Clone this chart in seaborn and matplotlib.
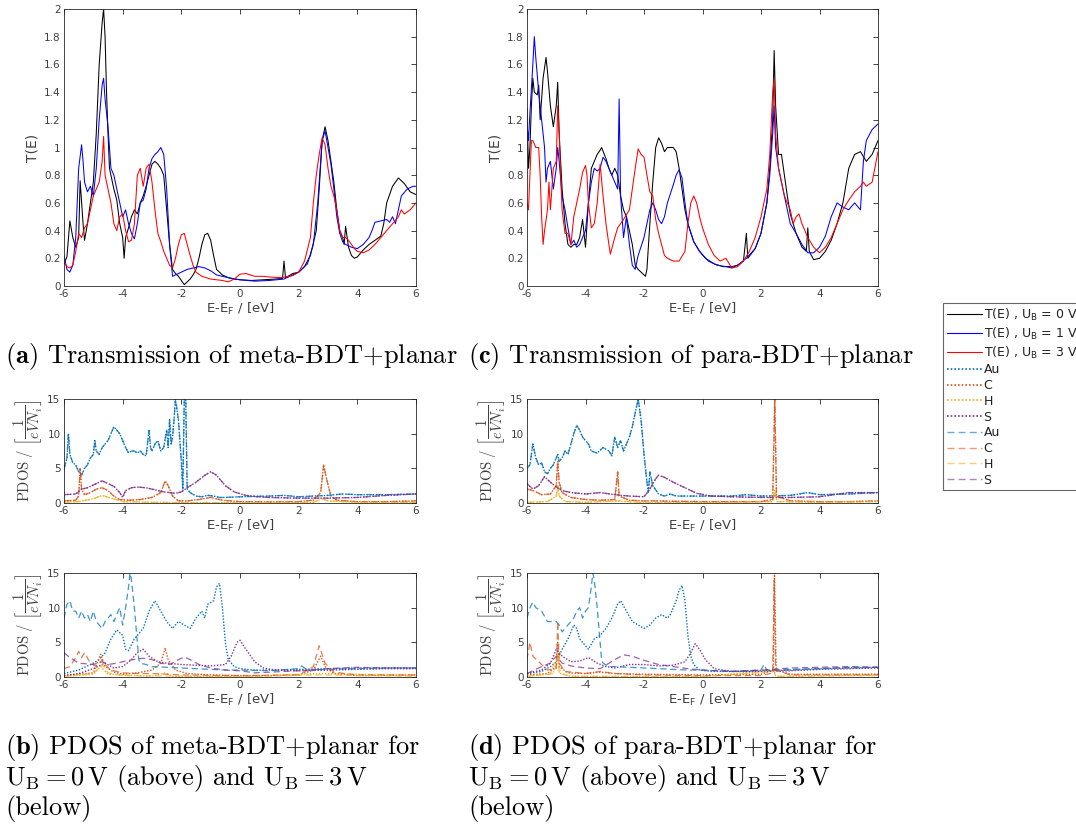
import matplotlib
matplotlib.use("Agg")
import matplotlib.pyplot as plt
import seaborn as sns
from matplotlib.lines import Line2D

# ---------------- transmission, meta-BDT+planar ----------------
E_meta_T0 = [-6, -5.9, -5.8, -5.7, -5.6, -5.5, -5.45, -5.35, -5.3, -5.2, -5.1, -5.0, -4.9, -4.8, -4.7, -4.65,
             -4.6, -4.55, -4.5, -4.45, -4.4, -4.3, -4.2, -4.1, -4.0, -3.95, -3.9, -3.8, -3.7, -3.6, -3.5, -3.4,
             -3.3, -3.2, -3.1, -3.0, -2.9, -2.8, -2.7, -2.6, -2.5, -2.4, -2.3, -2.2, -2.1, -2.0, -1.9, -1.8,
             -1.7, -1.6, -1.5, -1.4, -1.3, -1.2, -1.1, -1.0, -0.9, -0.8, -0.6, -0.4, -0.2, 0.0, 0.4, 0.8, 1.2,
             1.45, 1.5, 1.55, 1.8, 2.0, 2.2, 2.4, 2.6, 2.7, 2.8, 2.9, 3.0, 3.1, 3.2, 3.3, 3.4, 3.5, 3.55, 3.6,
             3.7, 3.8, 3.9, 4.0, 4.2, 4.4, 4.6, 4.8, 4.9, 5.0, 5.2, 5.4, 5.6, 5.8, 6.0]
T_meta_0 = [0.16, 0.21, 0.47, 0.35, 0.28, 0.35, 0.76, 0.45, 0.33, 0.45, 0.6, 0.75, 1.1, 1.6, 1.9, 2.0,
            1.8, 1.4, 1.1, 0.85, 0.8, 0.7, 0.62, 0.45, 0.35, 0.2, 0.35, 0.42, 0.5, 0.55, 0.52, 0.6,
            0.65, 0.72, 0.8, 0.88, 0.9, 0.88, 0.85, 0.8, 0.55, 0.3, 0.12, 0.09, 0.07, 0.04, 0.01, 0.03,
            0.05, 0.08, 0.12, 0.2, 0.3, 0.37, 0.38, 0.33, 0.22, 0.12, 0.08, 0.06, 0.05, 0.045, 0.04, 0.045, 0.05,
            0.055, 0.18, 0.06, 0.09, 0.1, 0.14, 0.22, 0.4, 0.7, 1.05, 1.15, 1.05, 0.9, 0.75, 0.55, 0.4, 0.35, 0.3, 0.43,
            0.28, 0.22, 0.2, 0.21, 0.26, 0.3, 0.33, 0.36, 0.45, 0.6, 0.72, 0.78, 0.74, 0.68, 0.66]

E_meta_T1 = [-6, -5.9, -5.8, -5.7, -5.6, -5.5, -5.4, -5.35, -5.3, -5.2, -5.1, -5.0, -4.9, -4.8, -4.7, -4.65,
             -4.6, -4.5, -4.4, -4.3, -4.2, -4.1, -4.0, -3.9, -3.8, -3.7, -3.6, -3.5, -3.4, -3.3, -3.2, -3.1,
             -3.0, -2.9, -2.8, -2.7, -2.6, -2.5, -2.4, -2.3, -2.2, -2.0, -1.8, -1.6, -1.4, -1.2, -1.0, -0.8,
             -0.4, 0.0, 0.5, 1.0, 1.5, 2.0, 2.3, 2.5, 2.65, 2.8, 2.9, 3.0, 3.1, 3.2, 3.3, 3.4, 3.5, 3.6, 3.8,
             4.0, 4.2, 4.4, 4.5, 4.6, 4.8, 5.0, 5.1, 5.2, 5.3, 5.4, 5.5, 5.7, 5.9, 6.0]
T_meta_1 = [0.22, 0.12, 0.1, 0.15, 0.35, 0.85, 1.02, 0.9, 0.75, 0.68, 0.72, 0.65, 0.85, 1.2, 1.45, 1.5,
            1.35, 1.15, 0.85, 0.8, 0.7, 0.6, 0.5, 0.55, 0.45, 0.38, 0.34, 0.45, 0.6, 0.62, 0.7, 0.85,
            0.92, 0.95, 0.97, 1.0, 0.95, 0.7, 0.3, 0.07, 0.08, 0.1, 0.12, 0.13, 0.14, 0.13, 0.11, 0.08,
            0.06, 0.045, 0.035, 0.04, 0.05, 0.1, 0.16, 0.3, 0.6, 1.05, 1.12, 1.0, 0.88, 0.7, 0.5, 0.38, 0.32, 0.3, 0.28,
            0.27, 0.3, 0.35, 0.4, 0.46, 0.47, 0.48, 0.46, 0.5, 0.45, 0.55, 0.65, 0.7, 0.72, 0.72]

E_meta_T3 = [-6, -5.9, -5.8, -5.7, -5.6, -5.5, -5.4, -5.3, -5.2, -5.1, -5.0, -4.9, -4.8, -4.7, -4.65, -4.6,
             -4.5, -4.4, -4.3, -4.2, -4.1, -4.0, -3.9, -3.8, -3.7, -3.6, -3.5, -3.4, -3.3, -3.2, -3.1, -3.0,
             -2.9, -2.8, -2.7, -2.6, -2.5, -2.4, -2.3, -2.2, -2.1, -2.0, -1.9, -1.8, -1.7, -1.6, -1.5, -1.3,
             -1.0, -0.6, -0.4, -0.2, 0.0, 0.2, 0.5, 0.8, 1.0, 1.4, 1.8, 2.0, 2.2, 2.4, 2.5, 2.6, 2.7, 2.8, 2.9,
             3.0, 3.1, 3.2, 3.3, 3.4, 3.5, 3.6, 3.7, 3.8, 3.9, 4.0, 4.2, 4.4, 4.6, 4.8, 5.0, 5.2, 5.4, 5.5, 5.6,
             5.8, 6.0]
T_meta_3 = [0.18, 0.14, 0.13, 0.15, 0.25, 0.38, 0.35, 0.42, 0.45, 0.55, 0.65, 0.7, 0.75, 0.9, 1.08, 0.8,
            0.7, 0.6, 0.45, 0.4, 0.5, 0.52, 0.4, 0.32, 0.33, 0.45, 0.8, 0.85, 0.72, 0.85, 0.88, 0.75,
            0.55, 0.38, 0.32, 0.25, 0.2, 0.15, 0.13, 0.2, 0.3, 0.37, 0.38, 0.3, 0.22, 0.15, 0.1, 0.07,
            0.05, 0.04, 0.03, 0.05, 0.085, 0.09, 0.07, 0.07, 0.065, 0.06, 0.075, 0.1, 0.18, 0.35, 0.6, 0.8, 0.95, 1.07, 1.02,
            0.85, 0.72, 0.65, 0.55, 0.4, 0.35, 0.35, 0.33, 0.3, 0.27, 0.25, 0.24, 0.26, 0.3, 0.35, 0.4, 0.45, 0.5, 0.55, 0.52,
            0.55, 0.6]

# ---------------- transmission, para-BDT+planar ----------------
E_para_T0 = [-6, -5.95, -5.9, -5.85, -5.8, -5.75, -5.65, -5.6, -5.55, -5.45, -5.35, -5.3, -5.2, -5.1, -5.0, -4.95,
             -4.9, -4.8, -4.7, -4.6, -4.5, -4.4, -4.3, -4.2, -4.1, -4.0, -3.9, -3.8, -3.7, -3.6, -3.5, -3.45,
             -3.3, -3.2, -3.1, -3.0, -2.9, -2.8, -2.7, -2.6, -2.5, -2.4, -2.3, -2.2, -2.1, -2.0, -1.95, -1.9,
             -1.8, -1.7, -1.6, -1.5, -1.4, -1.3, -1.2, -1.0, -0.9, -0.8, -0.7, -0.6, -0.5, -0.3, -0.1, 0.1,
             0.4, 0.7, 1.0, 1.2, 1.4, 1.5, 1.55, 1.8, 2.0, 2.2, 2.3, 2.4, 2.45, 2.5, 2.6, 2.7, 2.8, 2.9, 3.0,
             3.2, 3.4, 3.55, 3.6, 3.65, 3.8, 4.0, 4.2, 4.4, 4.6, 4.8, 5.0, 5.2, 5.4, 5.6, 5.8, 6.0]
T_para_0 = [1.28, 0.85, 1.0, 1.3, 1.5, 1.4, 1.38, 1.45, 1.2, 1.5, 1.65, 1.55, 1.3, 1.15, 1.3, 1.47,
            1.1, 0.7, 0.45, 0.3, 0.28, 0.3, 0.3, 0.35, 0.48, 0.28, 0.6, 0.85, 0.9, 0.95, 0.98, 1.0,
            0.92, 0.85, 0.8, 0.85, 0.8, 0.65, 0.55, 0.5, 0.4, 0.3, 0.15, 0.12, 0.1, 0.08, 0.07, 0.12,
            0.45, 0.75, 1.0, 1.07, 1.03, 0.97, 1.0, 1.0, 0.97, 0.85, 0.7, 0.55, 0.45, 0.32, 0.25, 0.2,
            0.16, 0.14, 0.14, 0.15, 0.18, 0.38, 0.2, 0.27, 0.38, 0.6, 0.85, 1.2, 1.7, 1.3, 0.95, 0.95, 0.8, 0.65, 0.52,
            0.38, 0.28, 0.25, 0.42, 0.25, 0.19, 0.2, 0.25, 0.33, 0.45, 0.6, 0.85, 0.95, 0.97, 0.9, 0.95, 1.05]

E_para_T1 = [-6, -5.95, -5.9, -5.8, -5.75, -5.7, -5.6, -5.5, -5.4, -5.35, -5.3, -5.2, -5.1, -5.0, -4.95, -4.9,
             -4.8, -4.7, -4.6, -4.5, -4.4, -4.3, -4.2, -4.1, -4.0, -3.9, -3.8, -3.7, -3.6, -3.5, -3.4, -3.3,
             -3.2, -3.1, -3.0, -2.9, -2.85, -2.8, -2.7, -2.6, -2.5, -2.4, -2.3, -2.2, -2.0, -1.9, -1.8, -1.7,
             -1.6, -1.5, -1.4, -1.3, -1.2, -1.0, -0.9, -0.8, -0.7, -0.6, -0.5, -0.3, -0.1, 0.2, 0.5, 0.8, 1.0,
             1.2, 1.5, 1.8, 2.0, 2.2, 2.3, 2.4, 2.45, 2.5, 2.6, 2.7, 2.8, 2.9, 3.0, 3.2, 3.4, 3.6, 3.8, 4.0,
             4.2, 4.4, 4.6, 4.8, 5.0, 5.2, 5.4, 5.5, 5.6, 5.8, 6.0]
T_para_1 = [1.17, 1.05, 1.25, 1.6, 1.8, 1.65, 1.4, 1.2, 1.0, 0.75, 0.85, 0.9, 0.7, 0.85, 1.0, 0.9,
            0.65, 0.55, 0.42, 0.3, 0.33, 0.28, 0.3, 0.35, 0.4, 0.6, 0.75, 0.85, 0.83, 0.85, 0.93, 0.9,
            0.85, 0.8, 0.75, 0.7, 1.35, 0.65, 0.35, 0.5, 0.3, 0.15, 0.12, 0.22, 0.35, 0.45, 0.55, 0.6,
            0.55, 0.48, 0.45, 0.5, 0.6, 0.73, 0.8, 0.84, 0.78, 0.6, 0.45, 0.32, 0.25, 0.18, 0.15, 0.14, 0.13,
            0.15, 0.2, 0.27, 0.38, 0.6, 0.8, 1.1, 1.3, 1.0, 0.85, 0.75, 0.65, 0.55, 0.45, 0.38, 0.3, 0.24, 0.24, 0.28,
            0.36, 0.5, 0.6, 0.57, 0.55, 0.6, 0.55, 0.9, 1.05, 1.13, 1.17]

E_para_T3 = [-6, -5.95, -5.9, -5.85, -5.8, -5.7, -5.6, -5.55, -5.5, -5.45, -5.4, -5.3, -5.25, -5.2, -5.1, -5.0,
             -4.95, -4.9, -4.85, -4.8, -4.7, -4.6, -4.5, -4.4, -4.3, -4.2, -4.1, -4.0, -3.95, -3.9, -3.8, -3.7,
             -3.6, -3.5, -3.4, -3.3, -3.2, -3.15, -3.0, -2.9, -2.7, -2.5, -2.4, -2.3, -2.2, -2.1, -2.0, -1.9,
             -1.8, -1.7, -1.6, -1.5, -1.4, -1.3, -1.2, -1.0, -0.8, -0.6, -0.5, -0.4, -0.3, -0.2, -0.1, 0.0,
             0.2, 0.4, 0.6, 0.8, 1.0, 1.2, 1.4, 1.6, 1.8, 2.0, 2.2, 2.3, 2.4, 2.45, 2.5, 2.6, 2.7, 2.8, 3.0,
             3.1, 3.2, 3.3, 3.4, 3.6, 3.8, 4.0, 4.2, 4.4, 4.6, 4.8, 5.0, 5.2, 5.4, 5.5, 5.6, 5.8, 6.0]
T_para_3 = [0.6, 0.55, 0.8, 1.05, 1.05, 1.0, 1.0, 0.8, 0.5, 0.3, 0.4, 0.55, 0.75, 0.55, 0.85, 0.9,
            1.3, 1.1, 0.8, 0.55, 0.38, 0.38, 0.3, 0.5, 0.6, 0.7, 0.82, 0.87, 0.8, 0.6, 0.42, 0.45,
            0.6, 0.88, 0.65, 0.45, 0.3, 0.23, 0.35, 0.42, 0.48, 0.55, 0.7, 0.85, 0.99, 0.95, 0.93, 0.8,
            0.68, 0.65, 0.48, 0.38, 0.3, 0.22, 0.2, 0.18, 0.18, 0.25, 0.45, 0.6, 0.65, 0.6, 0.5, 0.42,
            0.3, 0.22, 0.18, 0.2, 0.13, 0.14, 0.18, 0.25, 0.35, 0.5, 0.7, 0.95, 1.4, 1.5, 1.1, 0.85, 0.75, 0.65, 0.55,
            0.45, 0.5, 0.52, 0.45, 0.35, 0.28, 0.24, 0.28, 0.35, 0.45, 0.55, 0.62, 0.68, 0.72, 0.75, 0.72, 0.75, 0.97]

# ---------------- PDOS, meta-BDT+planar, U_B = 0 V ----------------
E_m0_Au = [-6, -5.9, -5.85, -5.8, -5.7, -5.6, -5.5, -5.4, -5.3, -5.2, -5.1, -5.0, -4.95, -4.9, -4.8, -4.7, -4.6,
           -4.5, -4.4, -4.3, -4.2, -4.1, -4.0, -3.9, -3.8, -3.7, -3.6, -3.5, -3.4, -3.3, -3.2, -3.1, -3.05, -3.0,
           -2.9, -2.8, -2.7, -2.6, -2.5, -2.45, -2.4, -2.35, -2.3, -2.25, -2.2, -2.1, -2.0, -1.95, -1.9, -1.85,
           -1.8, -1.7, -1.5, -1.3, -1.1, -0.9, -0.7, -0.5, 0.0, 1.0, 1.5, 2.0, 2.5, 3.0, 3.5, 4.0, 5.0, 6.0]
P_m0_Au = [4.8, 6.5, 10.0, 7.0, 5.8, 5.5, 4.5, 4.0, 5.0, 5.5, 6.5, 7.0, 9.0, 7.5, 7.0, 8.0, 8.5,
           9.0, 10.0, 11.0, 10.5, 10.0, 9.0, 8.0, 7.2, 7.5, 7.5, 7.2, 7.5, 7.0, 6.8, 10.5, 8.0, 7.5,
           8.5, 9.0, 7.5, 8.0, 10.5, 8.0, 12.0, 8.5, 9.5, 12.0, 15.0, 12.0, 6.0, 2.0, 15.0, 15.0,
           2.0, 1.5, 1.0, 0.9, 1.1, 1.0, 0.8, 0.8, 0.9, 1.0, 1.1, 0.9, 1.0, 1.1, 1.3, 1.2, 1.2, 1.3]
E_m0_C = [-6, -5.6, -5.5, -5.45, -5.4, -5.3, -5.1, -4.9, -4.7, -4.5, -4.3, -4.1, -3.8, -3.4, -3.0, -2.7, -2.55,
          -2.45, -2.3, -2.1, -1.8, -1.4, -1.0, -0.6, 0.0, 1.0, 2.0, 2.5, 2.75, 2.85, 2.95, 3.1, 3.3, 4.0, 5.0, 6.0]
P_m0_C = [0.3, 0.4, 1.0, 5.0, 2.0, 1.2, 1.5, 2.0, 2.2, 1.8, 1.0, 0.5, 0.4, 0.5, 0.8, 1.5, 3.2,
          2.5, 1.0, 0.3, 0.3, 0.5, 0.8, 0.4, 0.2, 0.15, 0.2, 0.4, 1.5, 5.5, 3.5, 1.0, 0.4, 0.2, 0.2, 0.3]
E_m0_H = [-6, -5.5, -5.0, -4.7, -4.4, -4.0, -3.0, -2.0, 0.0, 2.5, 2.8, 3.0, 4.0, 6.0]
P_m0_H = [0.1, 0.2, 0.6, 1.1, 0.7, 0.2, 0.1, 0.05, 0.05, 0.1, 0.6, 0.3, 0.1, 0.1]
E_m0_S = [-6, -5.6, -5.4, -5.2, -5.0, -4.7, -4.5, -4.3, -4.1, -4.0, -3.9, -3.7, -3.5, -3.2, -3.0, -2.8, -2.6,
          -2.4, -2.2, -2.0, -1.8, -1.5, -1.2, -1.0, -0.8, -0.5, -0.2, 0.2, 0.6, 1.0, 2.0, 3.0, 4.0, 5.0, 6.0]
P_m0_S = [1.2, 1.3, 2.0, 2.2, 2.6, 3.2, 2.8, 2.4, 1.5, 0.8, 1.8, 2.2, 2.3, 2.2, 2.0, 1.8, 1.6,
          1.5, 1.4, 1.6, 2.2, 3.0, 4.0, 4.5, 4.0, 2.5, 1.6, 1.1, 0.9, 0.8, 0.7, 0.7, 0.8, 1.1, 1.3]

# ---------------- PDOS, para-BDT+planar, U_B = 0 V ----------------
E_p0_Au = [-6, -5.9, -5.8, -5.7, -5.6, -5.5, -5.4, -5.3, -5.2, -5.1, -5.0, -4.95, -4.9, -4.8, -4.7, -4.6, -4.5,
           -4.4, -4.3, -4.2, -4.1, -4.0, -3.9, -3.8, -3.6, -3.4, -3.2, -3.1, -3.0, -2.9, -2.8, -2.7, -2.6, -2.5,
           -2.4, -2.3, -2.2, -2.1, -2.0, -1.9, -1.85, -1.8, -1.7, -1.5, -1.3, -1.1, -0.9, -0.5, 0.0, 1.0, 1.5,
           2.0, 3.0, 3.6, 4.0, 5.0, 6.0]
P_p0_Au = [5.0, 5.5, 8.5, 6.5, 5.5, 5.8, 4.5, 4.2, 5.0, 5.5, 6.5, 7.0, 6.0, 6.5, 7.5, 7.0, 8.5,
           10.0, 11.2, 10.5, 9.5, 9.0, 8.5, 7.5, 7.2, 8.0, 7.5, 6.8, 9.5, 8.0, 9.0, 7.5, 8.5, 9.5,
           11.0, 13.0, 15.0, 12.0, 7.0, 3.0, 1.5, 4.5, 2.5, 1.3, 1.0, 1.3, 1.0, 1.0, 1.0, 1.0, 1.2,
           1.0, 1.1, 1.5, 1.2, 1.3, 1.5]
E_p0_C = [-6, -5.8, -5.5, -5.2, -5.0, -4.95, -4.9, -4.8, -4.5, -4.0, -3.5, -3.0, -2.9, -2.85, -2.5, -2.0, -1.5,
          -1.0, 0.0, 1.0, 2.0, 2.4, 2.47, 2.53, 3.0, 4.0, 5.0, 6.0]
P_p0_C = [2.0, 1.8, 1.2, 1.3, 2.5, 6.0, 3.0, 1.5, 0.8, 0.5, 0.4, 0.5, 4.5, 1.0, 0.4, 0.3, 0.3,
          0.25, 0.2, 0.2, 0.2, 0.5, 15.0, 1.0, 0.3, 0.2, 0.2, 0.3]
E_p0_H = [-6, -5.3, -5.0, -4.95, -4.9, -4.7, -4.0, -2.9, -2.0, 0.0, 2.4, 2.47, 2.55, 4.0, 6.0]
P_p0_H = [0.1, 0.2, 1.0, 2.5, 1.0, 0.2, 0.1, 0.3, 0.05, 0.05, 0.2, 1.8, 0.2, 0.1, 0.2]
E_p0_S = [-6, -5.8, -5.6, -5.4, -5.2, -5.0, -4.8, -4.5, -4.0, -3.5, -3.0, -2.5, -2.0, -1.8, -1.6, -1.5, -1.3,
          -1.0, -0.6, -0.2, 0.3, 1.0, 2.0, 3.0, 4.0, 5.0, 6.0]
P_p0_S = [2.8, 2.0, 2.5, 3.8, 3.0, 2.3, 1.8, 1.5, 1.3, 1.5, 1.2, 1.0, 0.9, 2.0, 3.5, 4.0, 3.7,
          3.0, 2.2, 1.4, 1.0, 0.9, 0.8, 0.8, 0.9, 1.5, 1.5]

# ---------------- PDOS, meta-BDT+planar, U_B = 3 V (dotted / dashed sides) ----------------
E_m3_Au_dot = [-6, -5.5, -5.0, -4.8, -4.6, -4.4, -4.2, -4.0, -3.9, -3.8, -3.6, -3.4, -3.3, -3.1, -2.9, -2.7,
               -2.5, -2.3, -2.1, -1.9, -1.7, -1.5, -1.3, -1.2, -1.1, -0.9, -0.8, -0.7, -0.6, -0.5, -0.4, -0.2,
               0.0, 0.5, 1.0, 2.0, 3.0, 4.0, 5.0, 6.0]
P_m3_Au_dot = [0.5, 1.0, 2.0, 2.5, 3.5, 5.5, 6.8, 6.0, 4.0, 3.8, 5.5, 6.5, 7.0, 9.5, 11.0, 9.5,
               8.0, 7.0, 8.0, 7.5, 7.0, 8.5, 9.5, 8.5, 10.5, 11.0, 13.0, 13.5, 10.0, 5.0, 2.5, 1.5,
               1.2, 1.0, 1.0, 1.1, 1.2, 1.3, 1.3, 1.3]
E_m3_Au_dash = [-6, -5.9, -5.8, -5.7, -5.6, -5.5, -5.4, -5.3, -5.2, -5.1, -5.0, -4.9, -4.8, -4.7, -4.6, -4.5,
                -4.4, -4.3, -4.2, -4.1, -4.0, -3.9, -3.8, -3.75, -3.7, -3.6, -3.5, -3.45, -3.4, -3.2, -3.0,
                -2.5, -2.0, -1.5, -1.0, -0.5, 0.0, 1.0, 2.0, 2.1, 2.3, 3.0, 4.0, 5.0, 6.0]
P_m3_Au_dash = [8.5, 10.5, 11.0, 9.5, 9.5, 8.5, 9.5, 8.5, 9.0, 8.0, 9.5, 8.0, 7.5, 7.0, 8.0, 8.5,
                9.0, 8.0, 9.0, 10.0, 7.5, 10.0, 13.0, 15.0, 14.0, 10.0, 5.0, 2.5, 2.0, 1.8, 1.5,
                1.4, 1.3, 1.2, 1.1, 1.0, 1.0, 0.9, 1.2, 1.6, 1.0, 1.1, 1.2, 1.3, 1.3]
E_m3_C_dot = [-6, -5.0, -4.75, -4.6, -4.3, -4.0, -3.5, -3.0, -2.7, -2.55, -2.45, -2.2, -1.8, -1.0, 0.0, 1.0,
              2.0, 2.5, 2.75, 2.9, 3.2, 4.0, 6.0]
P_m3_C_dot = [0.2, 0.6, 3.3, 1.5, 0.7, 0.4, 0.6, 1.0, 2.0, 4.2, 2.5, 1.0, 0.5, 0.3, 0.2, 0.2,
              0.3, 1.0, 3.0, 1.5, 0.5, 0.2, 0.3]
E_m3_C_dash = [-6, -5.8, -5.6, -5.5, -5.4, -5.3, -5.1, -4.9, -4.7, -4.6, -4.4, -4.0, -3.5, -3.0, -2.5, -2.0,
               0.0, 2.0, 2.5, 2.7, 2.9, 3.2, 4.0, 6.0]
P_m3_C_dash = [1.2, 1.5, 2.8, 3.7, 2.8, 3.5, 2.0, 1.5, 2.5, 1.8, 1.0, 0.6, 0.5, 0.5, 0.4, 0.3,
               0.2, 0.3, 1.5, 4.5, 2.0, 0.7, 0.3, 0.3]
E_m3_H_dot = [-6, -5.0, -4.75, -4.5, -3.0, -2.55, -2.3, 0.0, 2.75, 6.0]
P_m3_H_dot = [0.1, 0.4, 1.5, 0.4, 0.1, 0.6, 0.1, 0.05, 0.5, 0.2]
E_m3_H_dash = [-6, -5.0, -4.7, -4.5, -4.0, 0.0, 2.7, 6.0]
P_m3_H_dash = [0.1, 0.5, 1.8, 0.6, 0.2, 0.05, 0.3, 0.1]
E_m3_S_dot = [-6, -5.5, -5.0, -4.6, -4.3, -4.0, -3.7, -3.5, -3.3, -3.1, -2.8, -2.5, -2.0, -1.5, -1.0, -0.5,
              -0.3, -0.1, 0.0, 0.2, 0.5, 0.8, 1.2, 2.0, 3.0, 4.0, 5.0, 6.0]
P_m3_S_dot = [0.2, 0.5, 1.2, 2.0, 1.3, 1.5, 2.5, 3.5, 4.0, 3.0, 2.2, 2.0, 1.8, 1.7, 1.6, 1.8,
              3.0, 5.0, 5.3, 4.0, 2.2, 1.3, 1.0, 0.9, 1.0, 1.1, 1.2, 1.2]
E_m3_S_dash = [-6, -5.8, -5.5, -5.0, -4.7, -4.5, -4.2, -4.0, -3.8, -3.5, -3.3, -3.0, -2.7, -2.4, -2.1, -1.9,
               -1.7, -1.4, -1.0, -0.5, 0.0, 0.5, 1.0, 2.0, 3.0, 4.0, 5.0, 6.0]
P_m3_S_dash = [3.5, 2.8, 2.0, 1.8, 2.2, 1.8, 2.0, 2.2, 2.4, 2.6, 2.7, 2.5, 2.0, 1.8, 2.5, 2.9,
               2.5, 1.8, 1.3, 1.0, 0.9, 0.6, 0.7, 0.9, 1.2, 1.4, 1.3, 1.3]

# ---------------- PDOS, para-BDT+planar, U_B = 3 V (dotted / dashed sides) ----------------
E_p3_Au_dot = [-6, -5.5, -5.2, -5.0, -4.8, -4.6, -4.4, -4.3, -4.2, -4.0, -3.9, -3.7, -3.5, -3.3, -3.1, -2.9,
               -2.8, -2.6, -2.4, -2.2, -2.0, -1.8, -1.6, -1.4, -1.2, -1.1, -0.9, -0.8, -0.7, -0.6, -0.5, -0.4,
               -0.3, -0.1, 0.3, 1.0, 2.0, 3.0, 4.0, 5.0, 6.0]
P_p3_Au_dot = [0.5, 0.8, 1.5, 2.2, 4.0, 5.5, 7.5, 7.0, 5.5, 4.5, 4.0, 5.5, 6.0, 7.0, 8.5, 10.5,
               11.0, 9.5, 8.0, 7.5, 7.0, 7.5, 8.5, 9.0, 8.5, 9.0, 11.0, 12.5, 13.2, 11.0, 6.0, 3.0,
               1.8, 1.0, 0.8, 0.8, 0.9, 1.0, 1.2, 1.3, 1.4]
E_p3_Au_dash = [-6, -5.9, -5.8, -5.7, -5.5, -5.3, -5.2, -5.0, -4.9, -4.8, -4.7, -4.6, -4.5, -4.4, -4.3, -4.2,
                -4.1, -4.0, -3.9, -3.8, -3.75, -3.7, -3.6, -3.5, -3.45, -3.4, -3.2, -3.0, -2.5, -2.0, -1.5,
                -1.0, -0.5, 0.0, 1.0, 2.0, 2.1, 2.2, 3.0, 4.0, 5.0, 6.0]
P_p3_Au_dash = [8.5, 10.0, 10.8, 10.0, 9.5, 8.0, 8.0, 8.0, 7.5, 6.5, 7.0, 7.5, 8.0, 8.5, 9.5, 10.0,
                8.5, 9.5, 10.0, 13.0, 15.0, 14.0, 10.0, 5.0, 2.5, 2.0, 1.5, 1.5, 1.4, 1.3, 1.2,
                1.1, 1.0, 1.0, 0.8, 1.0, 1.8, 1.0, 1.1, 1.2, 1.4, 1.4]
E_p3_C_dot = [-6, -5.3, -5.0, -4.95, -4.9, -4.6, -4.0, -3.5, -3.0, -2.0, 0.0, 2.0, 2.42, 2.46, 2.52, 3.0, 6.0]
P_p3_C_dot = [0.3, 0.5, 1.5, 5.0, 1.5, 0.6, 0.5, 0.7, 0.5, 0.4, 0.3, 0.4, 1.0, 15.0, 1.0, 0.4, 0.4]
E_p3_C_dash = [-6, -5.9, -5.8, -5.6, -5.3, -5.0, -4.95, -4.9, -4.7, -4.0, -3.5, -3.0, -2.0, 0.0, 2.0, 2.4,
               2.45, 2.5, 3.0, 6.0]
P_p3_C_dash = [2.5, 5.0, 3.0, 2.2, 1.0, 1.2, 8.0, 2.0, 0.8, 0.5, 0.8, 0.5, 0.3, 0.2, 0.2, 0.6,
               14.0, 1.0, 0.3, 0.3]
E_p3_H_dot = [-6, -5.1, -4.95, -4.85, -4.5, 0.0, 2.45, 2.5, 6.0]
P_p3_H_dot = [0.1, 0.5, 3.0, 0.5, 0.1, 0.05, 1.0, 0.1, 0.3]
E_p3_H_dash = [-6, -5.2, -4.95, -4.9, -4.5, 0.0, 2.45, 2.5, 6.0]
P_p3_H_dash = [0.1, 0.4, 3.5, 0.5, 0.1, 0.05, 0.8, 0.1, 0.2]
E_p3_S_dot = [-6, -5.5, -5.2, -5.0, -4.8, -4.5, -4.2, -3.9, -3.6, -3.3, -3.0, -2.5, -2.0, -1.5, -1.0, -0.6,
              -0.4, -0.25, -0.1, 0.1, 0.4, 1.0, 2.0, 3.0, 4.0, 5.0, 6.0]
P_p3_S_dot = [0.5, 1.0, 2.0, 4.0, 3.0, 2.2, 2.3, 2.8, 2.0, 1.5, 1.3, 1.8, 1.8, 1.6, 1.7, 2.2,
              3.5, 4.8, 4.0, 2.5, 1.2, 0.8, 0.8, 0.9, 1.1, 1.2, 1.3]
E_p3_S_dash = [-6, -5.5, -5.2, -5.0, -4.8, -4.5, -4.0, -3.5, -3.0, -2.7, -2.4, -2.0, -1.5, -1.0, -0.5, 0.0,
               1.0, 2.0, 3.0, 4.0, 5.0, 6.0]
P_p3_S_dash = [0.5, 1.5, 2.0, 3.0, 2.0, 1.6, 1.3, 1.2, 2.5, 3.2, 3.0, 2.4, 1.8, 1.5, 1.2, 1.0,
               0.8, 1.0, 1.3, 1.4, 1.5, 1.4]

species = ["Au", "C", "H", "S"]
species_colors = ["#0072BD", "#D95319", "#EDB120", "#7E2F8E"]
bias_labels = ["0", "1", "3"]
bias_colors = ["black", "blue", "red"]
x_ticks = [-6, -4, -2, 0, 2, 4, 6]

# ---------------- style ----------------
sns.set_theme(style="white")
plt.rcParams.update({
    "font.family": ["DejaVu Sans"],
    "mathtext.fontset": "dejavusans",
    "axes.unicode_minus": False,
    "axes.edgecolor": "#262626",
    "axes.linewidth": 0.6,
    "xtick.color": "#262626",
    "ytick.color": "#262626",
    "xtick.labelcolor": "#404040",
    "ytick.labelcolor": "#404040",
    "xtick.direction": "in",
    "ytick.direction": "in",
    "xtick.major.size": 3.5,
    "ytick.major.size": 3.5,
    "xtick.major.width": 0.6,
    "ytick.major.width": 0.6,
    "xtick.labelsize": 7.5,
    "ytick.labelsize": 7.5,
})

W, H = 1076, 825
fig = plt.figure(figsize=(W / 100, H / 100), dpi=100)


def box(x0, y0, x1, y1):
    return [x0 / W, 1 - y1 / H, (x1 - x0) / W, (y1 - y0) / H]


ax_tm = fig.add_axes(box(64, 9, 416, 286))
ax_tp = fig.add_axes(box(527, 9, 878, 286))
ax_m0 = fig.add_axes(box(64, 399, 416, 503))
ax_p0 = fig.add_axes(box(527, 399, 878, 503))
ax_m3 = fig.add_axes(box(64, 573, 416, 677))
ax_p3 = fig.add_axes(box(527, 573, 878, 677))

xlab = r"E-E$_\mathrm{F}$ / [eV]"
pdos_lab = r"$\mathrm{PDOS}\ /\ \left[\dfrac{1}{eVN_i}\right]$"


def frame(ax):
    ax.set_xlim(-6, 6)
    ax.set_xticks(x_ticks)
    ax.set_xticklabels([str(t) for t in x_ticks])
    ax.tick_params(top=True, right=True, pad=2.5)
    for s in ax.spines.values():
        s.set_visible(True)
    ax.set_xlabel(xlab, fontsize=9.5, color="#404040", labelpad=1)


def line(ax, x, y, color, ls="-", lw=0.7, alpha=1.0):
    sns.lineplot(x=x, y=y, ax=ax, color=color, linestyle=ls, linewidth=lw, alpha=alpha,
                 estimator=None, sort=False, legend=False)


# transmission panels
trans_sets = [
    (ax_tm, [(E_meta_T0, T_meta_0), (E_meta_T1, T_meta_1), (E_meta_T3, T_meta_3)]),
    (ax_tp, [(E_para_T0, T_para_0), (E_para_T1, T_para_1), (E_para_T3, T_para_3)]),
]
for ax, curves in trans_sets:
    for (x, y), c in zip(curves, bias_colors):
        line(ax, x, y, c, lw=0.75)
    frame(ax)
    ax.set_ylim(0, 2)
    yt = [round(0.2 * i, 1) for i in range(11)]
    ax.set_yticks(yt)
    ax.set_yticklabels(["0" if v == 0 else ("%g" % v) for v in yt])
    ax.set_ylabel("T(E)", fontsize=10, color="#404040", labelpad=3)

# PDOS panels: dotted and dashed curves for the two electrode sides
pdos_sets = [
    (ax_m0, [(E_m0_Au, P_m0_Au), (E_m0_C, P_m0_C), (E_m0_H, P_m0_H), (E_m0_S, P_m0_S)],
            [(E_m0_Au, P_m0_Au), (E_m0_C, P_m0_C), (E_m0_H, P_m0_H), (E_m0_S, P_m0_S)]),
    (ax_p0, [(E_p0_Au, P_p0_Au), (E_p0_C, P_p0_C), (E_p0_H, P_p0_H), (E_p0_S, P_p0_S)],
            [(E_p0_Au, P_p0_Au), (E_p0_C, P_p0_C), (E_p0_H, P_p0_H), (E_p0_S, P_p0_S)]),
    (ax_m3, [(E_m3_Au_dot, P_m3_Au_dot), (E_m3_C_dot, P_m3_C_dot), (E_m3_H_dot, P_m3_H_dot), (E_m3_S_dot, P_m3_S_dot)],
            [(E_m3_Au_dash, P_m3_Au_dash), (E_m3_C_dash, P_m3_C_dash), (E_m3_H_dash, P_m3_H_dash), (E_m3_S_dash, P_m3_S_dash)]),
    (ax_p3, [(E_p3_Au_dot, P_p3_Au_dot), (E_p3_C_dot, P_p3_C_dot), (E_p3_H_dot, P_p3_H_dot), (E_p3_S_dot, P_p3_S_dot)],
            [(E_p3_Au_dash, P_p3_Au_dash), (E_p3_C_dash, P_p3_C_dash), (E_p3_H_dash, P_p3_H_dash), (E_p3_S_dash, P_p3_S_dash)]),
]
for ax, dotted, dashed in pdos_sets:
    for (x, y), c in zip(dotted, species_colors):
        line(ax, x, y, c, ls=(0, (1, 1.2)), lw=1.0)
    for (x, y), c in zip(dashed, species_colors):
        line(ax, x, y, c, ls=(0, (5, 3)), lw=0.9, alpha=0.75)
    frame(ax)
    ax.set_ylim(0, 15)
    ax.set_yticks([0, 5, 10, 15])
    ax.set_yticklabels(["0", "5", "10", "15"])
    ax.set_ylabel(pdos_lab, fontsize=10.5, color="#404040", labelpad=1.5, math_fontfamily="cm")

# legend
handles = []
labels = []
for c, b in zip(bias_colors, bias_labels):
    handles.append(Line2D([], [], color=c, lw=0.8))
    labels.append(r"T(E) , U$_\mathrm{B}$ = " + b + " V")
for c, s in zip(species_colors, species):
    handles.append(Line2D([], [], color=c, lw=1.2, linestyle=(0, (1, 1.2))))
    labels.append(s)
for c, s in zip(species_colors, species):
    handles.append(Line2D([], [], color=c, lw=1.0, linestyle=(0, (5, 3)), alpha=0.6))
    labels.append(s)
leg = fig.legend(handles, labels, loc="upper left", bbox_to_anchor=(943 / W, 1 - 303 / H),
                 fontsize=9, frameon=True, fancybox=False, handlelength=2.8, handletextpad=0.15,
                 labelspacing=0.22, borderpad=0.3, borderaxespad=0)
leg.get_frame().set_edgecolor("#404040")
leg.get_frame().set_linewidth(0.8)
for t in leg.get_texts():
    t.set_color("#202020")

# captions
cap_kw = dict(fontsize=19, fontfamily="cmr10", math_fontfamily="cm", color="black", va="baseline")
fig.text(5 / W, 1 - 363 / H, r"$\mathbf{(a)}$ Transmission of meta-BDT+planar", **cap_kw)
fig.text(468 / W, 1 - 363 / H, r"$\mathbf{(c)}$ Transmission of para-BDT+planar", **cap_kw)

bias_line = r"$\mathrm{U_B} = 0\,\mathrm{V}$ (above) and $\mathrm{U_B} = 3\,\mathrm{V}$"
for x0, head in [(5, r"$\mathbf{(b)}$ PDOS of meta-BDT+planar for"),
                 (468, r"$\mathbf{(d)}$ PDOS of para-BDT+planar for")]:
    fig.text(x0 / W, 1 - 754 / H, head, **cap_kw)
    fig.text(x0 / W, 1 - 785 / H, bias_line, **cap_kw)
    fig.text(x0 / W, 1 - 815 / H, "(below)", **cap_kw)

fig.savefig("out.png", dpi=100, facecolor="white")
